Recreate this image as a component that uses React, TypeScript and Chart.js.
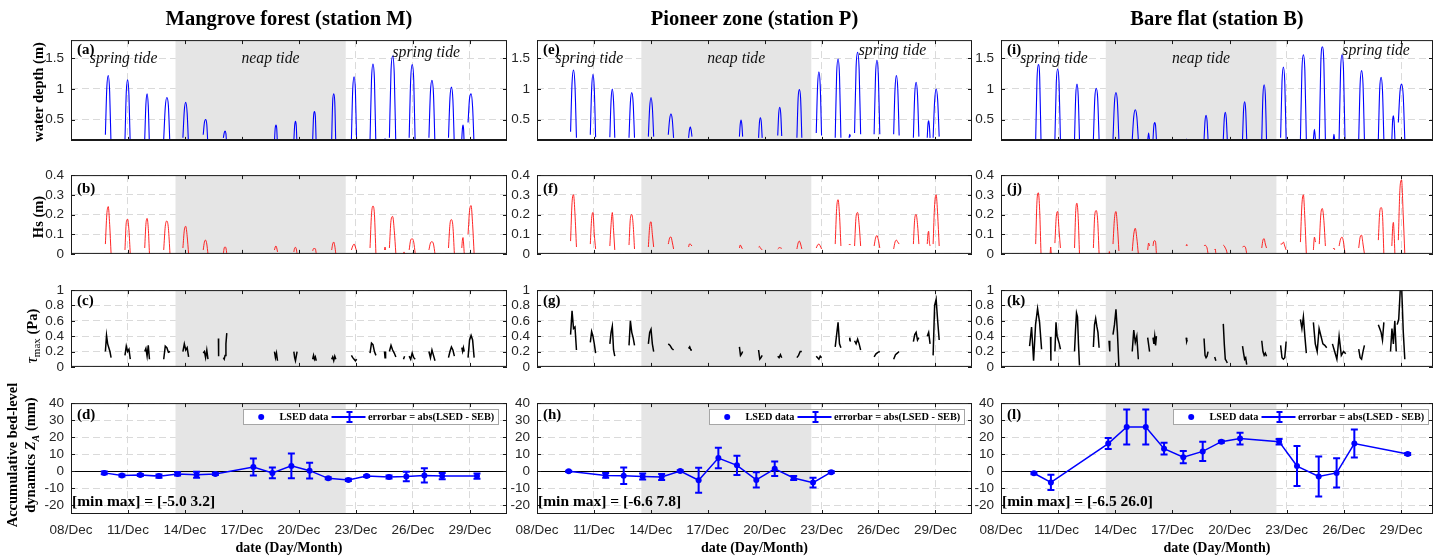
import React, { useEffect, useRef } from 'react';
import { Chart, registerables } from 'chart.js';
Chart.register(...registerables);

// ---------------- axis / tick data ----------------
const dayTicks = [0, 3, 6, 9, 12, 15, 18, 21]; // days since 08 Dec 00:00
const dayLabels = ['08/Dec', '11/Dec', '14/Dec', '17/Dec', '20/Dec', '23/Dec', '26/Dec', '29/Dec'];
const depthTicks = [0.5, 1, 1.5];
const hsTicks = [0, 0.1, 0.2, 0.3, 0.4];
const tauTicks = [0, 0.2, 0.4, 0.6, 0.8, 1];
const zTicks = [-20, -10, 0, 10, 20, 30, 40];
const neapPeriod = [5.5, 14.46];

const stationTitles = ['Mangrove forest (station M)', 'Pioneer zone (station P)', 'Bare flat (station B)'];
const minMaxText = ['[min max] = [-5.0 3.2]', '[min max] = [-6.6 7.8]', '[min max] = [-6.5 26.0]'];
const panelLetters = [
  ['(a)', '(b)', '(c)', '(d)'],
  ['(e)', '(f)', '(g)', '(h)'],
  ['(i)', '(j)', '(k)', '(l)'],
];
const tideLabelText = ['spring tide', 'neap tide', 'spring tide'];

// ---------------- series: [tStart, tEnd, samples] ----------------
const depthM = [
  [1.81, 2.11, [0.25, 1.02, 1.22, 0.95, 0.05]],
  [2.84, 3.12, [0.15, 0.95, 1.15, 0.9, 0.05]],
  [3.88, 4.13, [0.17, 0.75, 0.92, 0.72, 0.05]],
  [4.88, 5.21, [0.18, 0.7, 0.86, 0.72, 0.05]],
  [5.89, 6.19, [0.2, 0.65, 0.78, 0.6, 0.05]],
  [6.96, 7.21, [0.25, 0.45, 0.5, 0.42, 0.05]],
  [8.02, 8.2, [0.2, 0.28, 0.31, 0.27, 0.05]],
  [10.71, 10.87, [0.15, 0.36, 0.41, 0.35, 0.05]],
  [11.73, 11.9, [0.15, 0.4, 0.47, 0.4, 0.05]],
  [12.72, 12.91, [0.15, 0.55, 0.63, 0.55, 0.05]],
  [13.72, 13.94, [0.15, 0.8, 0.92, 0.78, 0.05]],
  [14.76, 15.04, [0.17, 1.0, 1.2, 0.98, 0.05]],
  [15.74, 16.05, [0.15, 1.15, 1.41, 1.15, 0.05]],
  [16.5, 16.56, [0.1, 0.19, 0.1]],
  [16.76, 17.1, [0.2, 1.3, 1.54, 1.25, 0.05]],
  [17.8, 18.12, [0.2, 1.15, 1.4, 1.15, 0.05]],
  [18.84, 19.16, [0.2, 0.95, 1.14, 0.92, 0.05]],
  [19.87, 20.18, [0.2, 0.85, 1.03, 0.82, 0.05]],
  [20.57, 20.7, [0.18, 0.35, 0.41, 0.33, 0.05]],
  [20.9, 21.22, [0.45, 0.85, 0.92, 0.7, 0.05]],
];
const hsM = [
  [1.81, 2.11, [0.05, 0.2, 0.24, 0.15, 0]],
  [2.84, 3.12, [0.02, 0.16, 0.176, 0.12, 0]],
  [3.88, 4.13, [0.03, 0.15, 0.18, 0.13, 0]],
  [4.88, 5.21, [0.02, 0.14, 0.167, 0.13, 0]],
  [5.89, 6.19, [0.03, 0.12, 0.14, 0.09, 0]],
  [6.96, 7.21, [0.02, 0.06, 0.07, 0.05, 0]],
  [8.02, 8.2, [0.0, 0.03, 0.035, 0.03, 0]],
  [10.71, 10.87, [0.02, 0.035, 0.04, 0.03, 0.01]],
  [11.73, 11.9, [0.01, 0.03, 0.033, 0.025, 0]],
  [12.72, 12.91, [0.015, 0.027, 0.027, 0.026, 0]],
  [13.72, 13.94, [0.02, 0.05, 0.06, 0.04, 0]],
  [14.76, 15.04, [0.02, 0.04, 0.05, 0.035, 0.01]],
  [15.74, 16.05, [0.03, 0.2, 0.243, 0.2, 0]],
  [16.5, 16.56, [0.02, 0.035, 0.02]],
  [16.76, 17.1, [0.03, 0.17, 0.19, 0.12, 0]],
  [17.5, 17.56, [0, 0.01, 0]],
  [17.8, 18.12, [0.02, 0.07, 0.077, 0.06, 0]],
  [18.84, 19.16, [0.02, 0.055, 0.062, 0.05, 0]],
  [19.87, 20.18, [0.03, 0.15, 0.174, 0.14, 0]],
  [20.57, 20.7, [0.03, 0.07, 0.083, 0.05, 0]],
  [20.9, 21.22, [0.1, 0.22, 0.245, 0.15, 0]],
];
const tauM = [
  [1.81, 2.11, [0.2, 0.41, 0.3, 0.25, 0.2, 0.12]],
  [2.84, 3.12, [0.15, 0.27, 0.2, 0.23, 0.1]],
  [3.88, 4.13, [0.2, 0.24, 0.14, 0.28, 0.1]],
  [4.88, 5.21, [0.1, 0.27, 0.25, 0.19, 0.2]],
  [5.89, 6.19, [0.2, 0.3, 0.22, 0.25, 0.13]],
  [6.96, 7.21, [0.18, 0.2, 0.12, 0.22, 0.1]],
  [7.76, 7.77, [0.37, 0.14]],
  [8.02, 8.2, [0.12, 0.1, 0.15, 0.3, 0.44]],
  [10.71, 10.87, [0.2, 0.12, 0.18, 0.08]],
  [11.73, 11.9, [0.2, 0.12, 0.08, 0.14, 0.2]],
  [12.72, 12.91, [0.1, 0.15, 0.1, 0.13, 0.08]],
  [13.72, 13.94, [0.1, 0.13, 0.08, 0.14, 0.1]],
  [14.76, 15.04, [0.15, 0.12, 0.1, 0.08, 0.1]],
  [15.74, 16.05, [0.18, 0.31, 0.29, 0.2, 0.15]],
  [16.5, 16.56, [0.2, 0.12, 0.2]],
  [16.76, 17.1, [0.2, 0.28, 0.22, 0.18, 0.13]],
  [17.5, 17.56, [0.1, 0.14]],
  [17.8, 18.12, [0.14, 0.1, 0.18, 0.12, 0.1]],
  [18.84, 19.16, [0.2, 0.12, 0.22, 0.15, 0.08]],
  [19.87, 20.18, [0.12, 0.2, 0.26, 0.22, 0.14]],
  [20.57, 20.7, [0.25, 0.2, 0.25, 0.2]],
  [20.9, 21.22, [0.12, 0.35, 0.41, 0.35, 0.12]],
];

const depthP = [
  [1.77, 2.08, [0.3, 1.1, 1.31, 1.05, 0.2]],
  [2.81, 3.09, [0.25, 1.0, 1.24, 1.0, 0.21]],
  [3.84, 4.1, [0.21, 0.82, 1.0, 0.8, 0.2]],
  [4.85, 5.14, [0.2, 0.78, 0.94, 0.78, 0.2]],
  [5.87, 6.15, [0.22, 0.7, 0.86, 0.7, 0.22]],
  [6.92, 7.2, [0.25, 0.5, 0.59, 0.5, 0.2]],
  [7.99, 8.17, [0.2, 0.33, 0.38, 0.33, 0.22]],
  [10.67, 10.84, [0.22, 0.42, 0.49, 0.42, 0.22]],
  [11.68, 11.87, [0.2, 0.46, 0.53, 0.46, 0.2]],
  [12.69, 12.9, [0.24, 0.6, 0.7, 0.6, 0.23]],
  [13.7, 13.96, [0.2, 0.85, 0.99, 0.85, 0.2]],
  [14.72, 15.0, [0.28, 1.05, 1.28, 1.05, 0.24]],
  [15.72, 16.02, [0.2, 1.25, 1.49, 1.22, 0.2]],
  [16.45, 16.52, [0.2, 0.26, 0.22]],
  [16.74, 17.06, [0.28, 1.35, 1.6, 1.32, 0.26]],
  [17.77, 18.07, [0.26, 1.22, 1.47, 1.2, 0.26]],
  [18.8, 19.09, [0.26, 1.0, 1.22, 1.0, 0.24]],
  [19.84, 20.13, [0.2, 0.92, 1.11, 0.9, 0.22]],
  [20.57, 20.72, [0.2, 0.42, 0.48, 0.4, 0.2]],
  [20.88, 21.2, [0.2, 0.8, 1.0, 0.82, 0.22]],
];
const hsP = [
  [1.77, 2.08, [0.065, 0.26, 0.3, 0.2, 0.035]],
  [2.81, 3.09, [0.05, 0.18, 0.21, 0.1, 0.025]],
  [3.84, 4.1, [0.04, 0.15, 0.21, 0.12, 0.02]],
  [4.85, 5.14, [0.045, 0.18, 0.2, 0.15, 0.025]],
  [5.87, 6.15, [0.035, 0.14, 0.163, 0.1, 0.035]],
  [6.92, 7.2, [0.05, 0.08, 0.086, 0.06, 0.025]],
  [7.99, 8.17, [0.035, 0.05, 0.05, 0.045, 0.04]],
  [10.67, 10.84, [0.03, 0.045, 0.04, 0.03, 0.025]],
  [11.68, 11.87, [0.035, 0.038, 0.03, 0.025, 0.02]],
  [12.69, 12.9, [0.025, 0.03, 0.032, 0.03, 0.028]],
  [13.7, 13.96, [0.025, 0.055, 0.065, 0.05, 0.025]],
  [14.72, 15.0, [0.03, 0.045, 0.05, 0.04, 0.025]],
  [15.72, 16.02, [0.05, 0.23, 0.275, 0.2, 0.04]],
  [16.45, 16.52, [0.045, 0.05, 0.045]],
  [16.74, 17.06, [0.04, 0.19, 0.21, 0.15, 0.04]],
  [17.77, 18.07, [0.04, 0.08, 0.093, 0.07, 0.03]],
  [18.8, 19.09, [0.025, 0.06, 0.07, 0.06, 0.05]],
  [19.84, 20.13, [0.05, 0.18, 0.2, 0.15, 0.05]],
  [20.57, 20.72, [0.05, 0.1, 0.115, 0.06, 0.04]],
  [20.88, 21.2, [0.05, 0.25, 0.3, 0.2, 0.04]],
];
const tauP = [
  [1.77, 2.08, [0.42, 0.73, 0.5, 0.52, 0.22]],
  [2.81, 3.09, [0.32, 0.46, 0.4, 0.3, 0.18]],
  [3.84, 4.1, [0.3, 0.45, 0.53, 0.22, 0.14]],
  [4.85, 5.14, [0.28, 0.6, 0.45, 0.38, 0.28]],
  [5.87, 6.15, [0.3, 0.45, 0.49, 0.3, 0.2]],
  [6.92, 7.2, [0.3, 0.28, 0.24, 0.22]],
  [7.99, 8.17, [0.24, 0.26, 0.22, 0.22]],
  [10.67, 10.84, [0.26, 0.15, 0.17, 0.2]],
  [11.68, 11.87, [0.22, 0.1, 0.12, 0.15]],
  [12.69, 12.9, [0.14, 0.12, 0.16, 0.12]],
  [13.7, 13.96, [0.12, 0.15, 0.2, 0.2]],
  [14.72, 15.0, [0.14, 0.12, 0.1, 0.14, 0.12]],
  [15.72, 16.02, [0.26, 0.42, 0.58, 0.3, 0.25]],
  [16.45, 16.52, [0.35, 0.38, 0.33]],
  [16.74, 17.06, [0.34, 0.3, 0.36, 0.3, 0.22]],
  [17.77, 18.07, [0.13, 0.17, 0.19, 0.2]],
  [18.8, 19.09, [0.1, 0.16, 0.18, 0.2]],
  [19.84, 20.13, [0.33, 0.42, 0.45, 0.35, 0.38]],
  [20.57, 20.72, [0.4, 0.45, 0.3]],
  [20.88, 21.2, [0.15, 0.8, 0.88, 0.6, 0.35]],
];

const depthB = [
  [1.82, 2.1, [0.15, 1.15, 1.4, 1.2, 0.16]],
  [2.83, 3.12, [0.17, 1.1, 1.33, 1.1, 0.17]],
  [3.86, 4.12, [0.17, 0.9, 1.08, 0.88, 0.17]],
  [4.85, 5.15, [0.17, 0.85, 1.01, 0.85, 0.17]],
  [5.88, 6.19, [0.17, 0.78, 0.94, 0.78, 0.17]],
  [6.89, 7.21, [0.17, 0.55, 0.66, 0.55, 0.17]],
  [7.7, 7.8, [0.15, 0.28, 0.15]],
  [7.98, 8.16, [0.17, 0.4, 0.45, 0.4, 0.17]],
  [9.72, 9.78, [0.15, 0.18, 0.15]],
  [10.66, 10.87, [0.17, 0.48, 0.57, 0.48, 0.17]],
  [11.67, 11.88, [0.17, 0.52, 0.62, 0.52, 0.17]],
  [12.68, 12.9, [0.17, 0.66, 0.79, 0.66, 0.17]],
  [13.69, 13.94, [0.17, 0.9, 1.07, 0.9, 0.17]],
  [14.68, 14.97, [0.2, 1.12, 1.36, 1.12, 0.17]],
  [15.72, 16.03, [0.17, 1.3, 1.56, 1.3, 0.17]],
  [16.4, 16.51, [0.17, 0.34, 0.17]],
  [16.71, 17.03, [0.17, 1.42, 1.69, 1.42, 0.17]],
  [17.44, 17.52, [0.15, 0.26, 0.15]],
  [17.75, 18.06, [0.17, 1.3, 1.56, 1.3, 0.17]],
  [18.78, 19.08, [0.17, 1.08, 1.3, 1.08, 0.17]],
  [19.81, 20.1, [0.17, 1.0, 1.19, 0.98, 0.17]],
  [20.52, 20.68, [0.17, 0.48, 0.56, 0.46, 0.17]],
  [20.86, 21.2, [0.45, 0.95, 1.08, 0.9, 0.17]],
];
const hsB = [
  [1.82, 2.1, [0.05, 0.27, 0.31, 0.22, 0]],
  [2.58, 2.64, [0, 0.035, 0]],
  [2.83, 3.12, [0.055, 0.19, 0.215, 0.12, 0.03]],
  [3.86, 4.12, [0.03, 0.22, 0.257, 0.18, 0]],
  [4.85, 5.15, [0.03, 0.2, 0.22, 0.17, 0]],
  [5.67, 5.71, [0, 0.012, 0]],
  [5.88, 6.19, [0.05, 0.18, 0.215, 0.14, 0.015]],
  [6.89, 7.21, [0.015, 0.1, 0.13, 0.08, 0]],
  [7.7, 7.8, [0.02, 0.055, 0.04]],
  [7.98, 8.16, [0.04, 0.065, 0.067, 0.06, 0]],
  [9.72, 9.78, [0.04, 0.048, 0.04]],
  [10.66, 10.87, [0.04, 0.045, 0.04, 0.03, 0]],
  [11.22, 11.28, [0.02, 0.025, 0]],
  [11.67, 11.88, [0.045, 0.04, 0.03, 0.02, 0]],
  [12.68, 12.9, [0.035, 0.038, 0.038, 0.03, 0]],
  [13.69, 13.94, [0.03, 0.07, 0.077, 0.05, 0.03]],
  [14.68, 14.97, [0.05, 0.05, 0.06, 0.04, 0.02]],
  [15.72, 16.03, [0.06, 0.25, 0.3, 0.18, 0]],
  [16.4, 16.51, [0.02, 0.085, 0.06]],
  [16.71, 17.03, [0.05, 0.2, 0.23, 0.17, 0.04]],
  [17.44, 17.52, [0.025, 0.03, 0.02]],
  [17.75, 18.06, [0.04, 0.075, 0.085, 0.06, 0]],
  [18.78, 19.08, [0.03, 0.085, 0.095, 0.05, 0]],
  [19.81, 20.1, [0.07, 0.21, 0.235, 0.2, 0]],
  [20.52, 20.68, [0.04, 0.13, 0.16, 0.1, 0]],
  [20.86, 21.2, [0.07, 0.33, 0.375, 0.2, 0]],
];
const tauB = [
  [1.5, 2.13, [0.27, 0.52, 0.08, 0.55, 0.76, 0.58, 0.23]],
  [2.6, 2.62, [0.39, 0.08]],
  [2.83, 3.12, [0.2, 0.58, 0.4, 0.35, 0.3, 0.23]],
  [3.86, 4.12, [0.2, 0.48, 0.7, 0.65, 0.3, 0.02]],
  [4.85, 5.15, [0.26, 0.55, 0.63, 0.53, 0.45, 0.25]],
  [5.67, 5.71, [0.34, 0.2]],
  [5.88, 6.19, [0.42, 0.55, 0.75, 0.45, 0.0]],
  [6.89, 7.21, [0.2, 0.48, 0.32, 0.4, 0.1]],
  [7.7, 7.8, [0.38, 0.2]],
  [7.98, 8.16, [0.38, 0.3, 0.4, 0.28, 0.4]],
  [9.72, 9.78, [0.38, 0.33, 0.35]],
  [10.66, 10.87, [0.37, 0.15, 0.12, 0.14, 0.2]],
  [11.22, 11.28, [0.13, 0.08]],
  [11.67, 11.88, [0.56, 0.3, 0.1, 0.08, 0.05]],
  [12.68, 12.9, [0.27, 0.18, 0.1, 0.12, 0.03]],
  [13.69, 13.94, [0.34, 0.2, 0.15, 0.18, 0.14]],
  [14.68, 14.97, [0.28, 0.12, 0.1, 0.12, 0.33]],
  [15.39, 15.41, [0.19, 0.19]],
  [15.72, 16.03, [0.62, 0.5, 0.65, 0.4, 0.18]],
  [16.4, 17.1, [0.58, 0.3, 0.2, 0.5, 0.4, 0.3, 0.28, 0.25]],
  [17.4, 18.1, [0.3, 0.2, 0.1, 0.4, 0.15, 0.2, 0.17]],
  [18.78, 19.08, [0.23, 0.12, 0.1, 0.2, 0.28]],
  [19.81, 20.1, [0.55, 0.5, 0.45, 0.35, 0.58]],
  [20.45, 20.75, [0.2, 0.5, 0.3, 0.6, 0.2]],
  [20.8, 21.2, [0.55, 0.62, 1.0, 1.0, 0.45, 0.1]],
];

// bed-level (LSED) data: time (days since 08 Dec), value (mm), error (mm)
const lsedTimeM = [1.75, 2.68, 3.65, 4.63, 5.61, 6.61, 7.6, 9.6, 10.6, 11.6, 12.56, 13.54, 14.6, 15.56, 16.74, 17.65, 18.6, 19.54, 21.37];
const lsedM = [-0.9, -2.4, -2.2, -2.8, -1.5, -2.0, -1.5, 2.6, -0.9, 3.2, 0.4, -4.1, -5.0, -2.8, -3.3, -3.0, -2.4, -2.8, -2.8];
const errM = [0.8, 0.6, 0.6, 1.0, 1.0, 1.8, 0.7, 5.0, 3.2, 7.2, 4.6, 0.6, 0.6, 0.5, 0.9, 2.8, 4.2, 1.8, 1.5];

const lsedTimeP = [1.67, 3.62, 4.57, 5.57, 6.57, 7.55, 8.52, 9.56, 10.54, 11.56, 12.53, 13.53, 14.55, 15.51];
const lsedP = [0.0, -2.4, -2.6, -3.0, -3.3, 0.2, -5.2, 7.8, 3.5, -5.0, 1.5, -3.9, -6.6, -0.5];
const errP = [0.4, 1.4, 4.8, 1.8, 1.7, 0.4, 7.3, 6.0, 5.7, 4.5, 4.2, 1.2, 2.9, 0.5];

const lsedTimeB = [1.73, 2.62, 5.63, 6.6, 7.6, 8.56, 9.57, 10.59, 11.57, 12.55, 14.6, 15.54, 16.68, 17.62, 18.55, 21.35];
const lsedB = [-1.1, -6.5, 16.3, 26.0, 26.0, 13.3, 8.3, 11.7, 17.4, 19.2, 17.4, 3.1, -3.0, -0.9, 16.3, 10.2];
const errB = [0.6, 4.5, 3.2, 10.2, 10.2, 3.4, 3.6, 5.7, 0.6, 3.4, 1.6, 11.7, 11.7, 8.6, 8.2, 0.6];

const STATIONS: any[] = [
  { depth: depthM, hs: hsM, tau: tauM, t: lsedTimeM, z: lsedM, err: errM },
  { depth: depthP, hs: hsP, tau: tauP, t: lsedTimeP, z: lsedP, err: errP },
  { depth: depthB, hs: hsB, tau: tauB, t: lsedTimeB, z: lsedB, err: errB },
];

// ---------------- layout ----------------
const PAD_L = 62, PAD_R = 8, PAD_T = 8;
const COLS = [
  { left: 71, right: 507, xmax: 22.95 },
  { left: 537, right: 972, xmax: 22.93 },
  { left: 1001, right: 1433, xmax: 22.68 },
];
const ROWS = [
  { top: 33, bottom: 152, padB: 4, letterDy: 10 },
  { top: 168, bottom: 265, padB: 4, letterDy: 14 },
  { top: 283, bottom: 378, padB: 4, letterDy: 11 },
  { top: 396, bottom: 514, padB: 34, letterDy: 12 },
];
const Y_CFG = [
  { min: 0.15, max: 1.8, ticks: depthTicks },
  { min: 0, max: 0.4, ticks: hsTicks },
  { min: 0, max: 1, ticks: tauTicks },
  { min: -25, max: 40, ticks: zTicks },
];
const TIDE_POS = [
  [[2.77, 1.49], [10.5, 1.49], [18.7, 1.59]],
  [[2.76, 1.49], [10.5, 1.49], [18.74, 1.63]],
  [[2.78, 1.49], [10.5, 1.49], [19.69, 1.63]],
];
const SERIF = '"Liberation Serif", "Times New Roman", serif';
const SANS = '"Liberation Sans", Arial, sans-serif';
const GRID = '#dadada';
const SHADE = '#e5e5e5';
const BLUE = '#0000ff';

function burstPoints(bursts: any[]) {
  const pts: any[] = [];
  bursts.forEach(([t0, t1, vals]: any) => {
    const n = vals.length;
    vals.forEach((v: number, i: number) => {
      pts.push({ x: n > 1 ? t0 + (i * (t1 - t0)) / (n - 1) : t0, y: v });
    });
    pts.push({ x: t1 + 0.0005, y: null });
  });
  return pts;
}

function panelPlugin(c: number, r: number) {
  return {
    id: 'panel' + c + r,
    beforeDatasetsDraw(chart: any) {
      const { ctx, chartArea: a, scales } = chart;
      const x = scales.x, y = scales.y;
      ctx.save();
      const xs = x.getPixelForValue(neapPeriod[0]);
      const xe = x.getPixelForValue(neapPeriod[1]);
      ctx.fillStyle = SHADE;
      ctx.fillRect(xs, a.top, xe - xs, a.bottom - a.top);
      if (r === 3) {
        const yz = Math.round(y.getPixelForValue(0)) + 0.5;
        ctx.strokeStyle = '#000';
        ctx.lineWidth = 1;
        ctx.beginPath();
        ctx.moveTo(a.left, yz);
        ctx.lineTo(a.right, yz);
        ctx.stroke();
        const st = STATIONS[c];
        ctx.strokeStyle = BLUE;
        ctx.lineWidth = 2;
        st.t.forEach((t: number, i: number) => {
          const px = x.getPixelForValue(t);
          const top = y.getPixelForValue(st.z[i] + st.err[i]);
          const bot = y.getPixelForValue(st.z[i] - st.err[i]);
          ctx.beginPath();
          ctx.moveTo(px, top); ctx.lineTo(px, bot);
          ctx.moveTo(px - 3.5, top); ctx.lineTo(px + 3.5, top);
          ctx.moveTo(px - 3.5, bot); ctx.lineTo(px + 3.5, bot);
          ctx.stroke();
        });
      }
      ctx.restore();
    },
    afterDraw(chart: any) {
      const { ctx, chartArea: a, scales } = chart;
      const x = scales.x, y = scales.y;
      ctx.save();
      // frame
      ctx.strokeStyle = '#1a1a1a';
      ctx.lineWidth = 1;
      ctx.strokeRect(a.left + 0.5, a.top + 0.5, a.right - a.left - 1, a.bottom - a.top - 1);
      if (r === 0) {
        ctx.lineWidth = 2;
        ctx.beginPath();
        ctx.moveTo(a.left, a.bottom - 1);
        ctx.lineTo(a.right, a.bottom - 1);
        ctx.stroke();
      }
      // inward ticks
      ctx.lineWidth = 1;
      ctx.beginPath();
      const TL = 4;
      x.ticks.forEach((tk: any) => {
        const px = Math.round(x.getPixelForValue(tk.value)) + 0.5;
        ctx.moveTo(px, a.bottom); ctx.lineTo(px, a.bottom - TL);
        ctx.moveTo(px, a.top); ctx.lineTo(px, a.top + TL);
      });
      y.ticks.forEach((tk: any) => {
        const py = Math.round(y.getPixelForValue(tk.value)) + 0.5;
        ctx.moveTo(a.left, py); ctx.lineTo(a.left + TL, py);
        ctx.moveTo(a.right, py); ctx.lineTo(a.right - TL, py);
      });
      ctx.stroke();
      // panel letter
      ctx.fillStyle = '#000';
      ctx.textBaseline = 'middle';
      ctx.textAlign = 'left';
      ctx.font = 'bold 15px ' + SERIF;
      ctx.fillText(panelLetters[c][r], a.left + 6, a.top + ROWS[r].letterDy);
      if (r === 0) {
        ctx.font = 'italic 15.7px ' + SERIF;
        ctx.textAlign = 'center';
        ctx.fillStyle = '#111';
        TIDE_POS[c].forEach((p: number[], i: number) => {
          ctx.fillText(tideLabelText[i], x.getPixelForValue(p[0]), y.getPixelForValue(p[1]));
        });
      }
      if (r === 3) {
        ctx.fillStyle = '#000';
        ctx.textAlign = 'left';
        ctx.font = 'bold 15.5px ' + SERIF;
        ctx.fillText(minMaxText[c], a.left + 1, a.bottom - 12.5);
        // legend
        const lx = Math.round(a.left + 172) + 0.5, ly = Math.round(a.top + 6) + 0.5, lw = 255, lh = 15;
        ctx.fillStyle = '#fff';
        ctx.fillRect(lx, ly, lw, lh);
        ctx.strokeStyle = '#a6a6a6';
        ctx.lineWidth = 1;
        ctx.strokeRect(lx, ly, lw, lh);
        const cy = ly + lh / 2;
        ctx.fillStyle = BLUE;
        ctx.beginPath();
        ctx.arc(lx + 17.7, cy, 3, 0, Math.PI * 2);
        ctx.fill();
        ctx.fillStyle = '#000';
        ctx.font = 'bold 10.3px ' + SERIF;
        ctx.fillText('LSED data', lx + 36, cy + 0.5);
        ctx.strokeStyle = BLUE;
        ctx.lineWidth = 2;
        ctx.beginPath();
        ctx.moveTo(lx + 88, cy); ctx.lineTo(lx + 122, cy);
        ctx.moveTo(lx + 106, cy - 5); ctx.lineTo(lx + 106, cy + 5);
        ctx.moveTo(lx + 103, cy - 5); ctx.lineTo(lx + 109, cy - 5);
        ctx.moveTo(lx + 103, cy + 5); ctx.lineTo(lx + 109, cy + 5);
        ctx.stroke();
        ctx.fillText('errorbar = abs(LSED - SEB)', lx + 124.4, cy + 0.5);
      }
      ctx.restore();
    },
  };
}

function makeConfig(c: number, r: number): any {
  const st = STATIONS[c];
  const col = COLS[c];
  const yc = Y_CFG[r];
  const isBottom = r === 3;
  let datasets: any[] = [];
  if (r === 0) {
    datasets = [{ data: burstPoints(st.depth), borderColor: BLUE, borderWidth: 1.1, pointRadius: 0, cubicInterpolationMode: 'monotone', fill: false }];
  } else if (r === 1) {
    datasets = [{ data: burstPoints(st.hs), borderColor: 'rgba(255,0,0,0.85)', borderWidth: 1, pointRadius: 0, cubicInterpolationMode: 'monotone', fill: false }];
  } else if (r === 2) {
    datasets = [{ data: burstPoints(st.tau), borderColor: '#000', borderWidth: 1.5, pointRadius: 0, tension: 0, fill: false }];
  } else {
    datasets = [{
      data: st.t.map((t: number, i: number) => ({ x: t, y: st.z[i] })),
      borderColor: BLUE, borderWidth: 1.5, pointRadius: 3, pointBackgroundColor: BLUE,
      pointBorderColor: BLUE, pointBorderWidth: 0, tension: 0, fill: false,
    }];
  }
  return {
    type: 'line',
    data: { datasets },
    options: {
      animation: false,
      responsive: false,
      maintainAspectRatio: false,
      devicePixelRatio: 1,
      events: [],
      layout: { padding: { left: 0, right: PAD_R, top: PAD_T, bottom: 0 } },
      plugins: { legend: { display: false }, tooltip: { enabled: false }, title: { display: false } },
      scales: {
        x: {
          type: 'linear',
          min: 0,
          max: col.xmax,
          afterFit: (s: any) => { s.height = ROWS[r].padB; },
          afterBuildTicks: (s: any) => { s.ticks = dayTicks.map((v) => ({ value: v })); },
          ticks: {
            display: isBottom,
            autoSkip: false,
            maxRotation: 0,
            padding: 8,
            color: '#262626',
            font: { family: SANS, size: 13.5 },
            callback: (_v: any, i: number) => dayLabels[i],
          },
          grid: { color: GRID, lineWidth: 1, drawTicks: false },
          border: { display: false, dash: [7, 4] },
        },
        y: {
          type: 'linear',
          min: yc.min,
          max: yc.max,
          afterFit: (s: any) => { s.width = PAD_L; },
          afterBuildTicks: (s: any) => { s.ticks = yc.ticks.map((v: number) => ({ value: v })); },
          ticks: {
            autoSkip: false,
            padding: 7,
            color: '#262626',
            font: { family: SANS, size: 13.5 },
            callback: (v: any) => String(v),
          },
          grid: { color: GRID, lineWidth: 1, drawTicks: false },
          border: { display: false, dash: [7, 4] },
        },
      },
    },
    plugins: [panelPlugin(c, r)],
  };
}

const rot: any = {
  position: 'absolute',
  transform: 'translate(-50%, -50%) rotate(-90deg)',
  whiteSpace: 'nowrap',
  fontFamily: SERIF,
  fontWeight: 'bold',
  color: '#000',
  textAlign: 'center',
};

export default function App() {
  const refs = useRef<any[]>([]);
  useEffect(() => {
    const charts: any[] = [];
    for (let c = 0; c < 3; c++) {
      for (let r = 0; r < 4; r++) {
        const cv = refs.current[c * 4 + r];
        if (cv) charts.push(new Chart(cv, makeConfig(c, r)));
      }
    }
    return () => charts.forEach((ch) => ch.destroy());
  }, []);

  const canvases: any[] = [];
  for (let c = 0; c < 3; c++) {
    for (let r = 0; r < 4; r++) {
      const col = COLS[c], row = ROWS[r];
      const w = col.right - col.left + PAD_L + PAD_R;
      const h = row.bottom - row.top + PAD_T + row.padB;
      canvases.push(
        <canvas
          key={c * 4 + r}
          ref={(el) => { refs.current[c * 4 + r] = el; }}
          width={w}
          height={h}
          style={{ position: 'absolute', left: col.left - PAD_L, top: row.top - PAD_T, width: w, height: h }}
        />
      );
    }
  }

  return (
    <div style={{ position: 'absolute', left: 0, top: 0, width: 1445, height: 558, background: '#fff', overflow: 'hidden' }}>
      {canvases}
      {stationTitles.map((t, i) => (
        <div key={'t' + i} style={{ position: 'absolute', left: (COLS[i].left + COLS[i].right) / 2, top: 18, transform: 'translate(-50%, -50%)', whiteSpace: 'nowrap', fontFamily: SERIF, fontWeight: 'bold', fontSize: 20.5, color: '#000' }}>{t}</div>
      ))}
      {COLS.map((col, i) => (
        <div key={'x' + i} style={{ position: 'absolute', left: (col.left + col.right) / 2, top: 548, transform: 'translate(-50%, -50%)', whiteSpace: 'nowrap', fontFamily: SERIF, fontWeight: 'bold', fontSize: 14, color: '#000' }}>date (Day/Month)</div>
      ))}
      <div style={{ ...rot, left: 38, top: 92, fontSize: 14.5 }}>water depth (m)</div>
      <div style={{ ...rot, left: 38, top: 216.5, fontSize: 14.5 }}>Hs (m)</div>
      <div style={{ ...rot, left: 32, top: 336, fontSize: 14.5 }}>
        <span style={{ fontWeight: 'normal', fontStyle: 'italic', fontSize: 17 }}>τ</span>
        <sub style={{ fontWeight: 'normal', fontSize: 11 }}>max</sub> (Pa)
      </div>
      <div style={{ ...rot, left: 24, top: 455, fontSize: 14.5, lineHeight: '18px' }}>
        Accumulative bed-level<br />dynamics <i>Z</i><sub style={{ fontSize: 10, fontStyle: 'italic' }}>A</sub> (mm)
      </div>
    </div>
  );
}
